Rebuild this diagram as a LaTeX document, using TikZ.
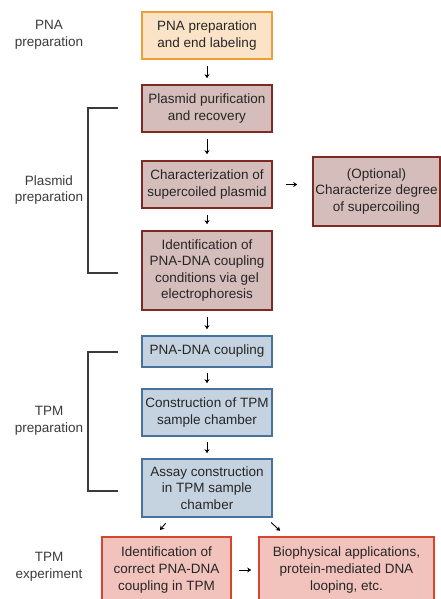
\documentclass[tikz,border=0pt]{standalone}
\usepackage{fontspec}
\setmainfont{Liberation Sans}
\usetikzlibrary{arrows.meta}

\definecolor{pnaline}{HTML}{EE9E36}
\definecolor{pnafill}{HTML}{FBE3C7}
\definecolor{plasline}{HTML}{7D2B22}
\definecolor{plasfill}{HTML}{D5BDBB}
\definecolor{tpmline}{HTML}{4772A0}
\definecolor{tpmfill}{HTML}{C5D3E1}
\definecolor{expline}{HTML}{D8452F}
\definecolor{expfill}{HTML}{F2C3BC}
\definecolor{labeltext}{HTML}{3A3A3A}

\tikzset{
  box/.style={draw, line width=1.6pt, align=center, inner sep=2pt,
    font=\fontsize{13.5}{16.6}\selectfont, text=black!85},
  pnabox/.style={box, draw=pnaline, fill=pnafill},
  plasbox/.style={box, draw=plasline, fill=plasfill},
  tpmbox/.style={box, draw=tpmline, fill=tpmfill},
  expbox/.style={box, draw=expline, fill=expfill},
  stage/.style={align=center, text=labeltext,
    font=\fontsize{13.5}{16.6}\selectfont},
  flow/.style={-{Stealth[length=4pt,width=5pt]}, line width=0.9pt,
    shorten <=6pt, shorten >=6pt},
  bracket/.style={draw=labeltext, line width=1.1pt},
}

\begin{document}
\begin{tikzpicture}[x=1pt,y=1pt]
  \useasboundingbox (0,0) rectangle (441,599);
  \clip (0,0) rectangle (441,599);

  % main column
  \node[pnabox, minimum width=130pt, minimum height=47pt] (b1) at (207,563.5)
    {PNA preparation\\and end labeling};
  \node[plasbox, minimum width=130pt, minimum height=47pt] (b2) at (207,490.5)
    {Plasmid purification\\and recovery};
  \node[plasbox, minimum width=130pt, minimum height=47pt] (b3) at (207,414.5)
    {Characterization of\\supercoiled plasmid};
  \node[plasbox, minimum width=127pt, minimum height=69pt] (opt) at (376.5,407.5)
    {(Optional)\\Characterize degree\\of supercoiling};
  \node[plasbox, minimum width=130pt, minimum height=79pt] (b4) at (207,328.5)
    {Identification of\\PNA-DNA coupling\\conditions via gel\\electrophoresis};
  \node[tpmbox, minimum width=130pt, minimum height=31pt] (b5) at (207,247.5)
    {PNA-DNA coupling};
  \node[tpmbox, minimum width=130pt, minimum height=47pt] (b6) at (207,186.5)
    {Construction of TPM\\sample chamber};
  \node[tpmbox, minimum width=130pt, minimum height=58pt] (b7) at (207,111)
    {Assay construction\\in TPM sample\\chamber};
  \node[expbox, minimum width=129pt, minimum height=66pt] (b8) at (166.5,29)
    {Identification of\\correct PNA-DNA\\coupling in TPM};
  \node[expbox, minimum width=175pt, minimum height=66pt] (b9) at (346.5,29)
    {Biophysical applications,\\protein-mediated DNA\\looping, etc.};

  \draw[flow] (b1) -- (b2);
  \draw[flow] (b2) -- (b3);
  \draw[flow] (b3) -- (b4);
  \draw[flow] (b4) -- (b5);
  \draw[flow, shorten <=5pt, shorten >=5pt] (b5) -- (b6);
  \draw[flow, shorten <=5pt, shorten >=5pt] (b6) -- (b7);
  \draw[flow, shorten <=13pt, shorten >=15pt] (b3.east) -- (b3.east -| opt.west);
  \draw[flow, shorten <=7pt, shorten >=7pt] (b8.east) -- (b8.east -| b9.west);
  \draw[flow, shorten <=7pt, shorten >=8pt]
    ([xshift=-37pt]b7.south) -- ([xshift=-11.5pt]b8.north);
  \draw[flow, shorten <=7pt, shorten >=8pt]
    ([xshift=59pt]b7.south) -- ([xshift=-60.5pt]b9.north);

  % stage labels and brackets
  \node[stage] (lpna) at (49,564) {PNA\\preparation};
  \node[stage] (lplas) at (49,409) {Plasmid\\preparation};
  \node[stage] (ltpm) at (49,178) {TPM\\preparation};
  \node[stage] (lexp) at (49,32) {TPM\\experiment};

  \draw[bracket] (118,491) -| (88,326) -- (118,326);
  \draw[bracket] (118,247) -| (88,108) -- (118,108);
\end{tikzpicture}
\end{document}
